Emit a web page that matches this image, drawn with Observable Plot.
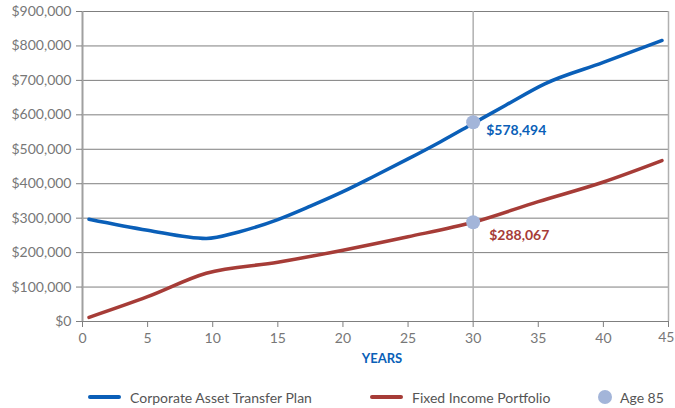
<!DOCTYPE html>
<html><head><meta charset="utf-8">
<script src="https://cdn.jsdelivr.net/npm/d3@7"></script>
<script src="https://cdn.jsdelivr.net/npm/@observablehq/plot@0.6"></script>
<style>
body{margin:0;background:#fff;font-family:Lato,sans-serif;}
#wrap{position:relative;width:675px;height:408px;}
#legend{position:absolute;top:386px;left:0;width:675px;height:22px;font-size:14px;color:#555;}
.li{position:absolute;top:0;display:flex;align-items:center;height:22px;white-space:nowrap;}
.sw{display:inline-block;width:33px;height:4px;border-radius:2px;margin-right:9px;}
.dot{display:inline-block;width:14px;height:14px;border-radius:7px;background:#a3b5d9;margin-right:8px;}
</style></head>
<body><div id="wrap"><div id="chart"></div>
<div id="legend">
<div class="li" style="left:88px"><span class="sw" style="background:#0a5fb8"></span>Corporate Asset Transfer Plan</div>
<div class="li" style="left:370px"><span class="sw" style="background:#a63c37"></span>Fixed Income Portfolio</div>
<div class="li" style="left:598px"><span class="dot"></span>Age 85</div>
</div></div>
<script>
const blueYears = [0.5, 5, 9.5, 12, 15, 17.5, 20, 22.5, 25, 27.5, 30, 32.5, 35.5, 40, 44.5];
const blueValues = [297000, 265000, 241000, 260000, 296000, 335000, 377000, 424000, 472000, 522000, 575000, 628000, 690000, 752000, 816000];
const redYears = [0.5, 5, 9.5, 15, 20, 25, 30, 35, 40, 44.5];
const redValues = [12000, 72000, 140000, 172000, 207000, 246000, 288000, 348000, 405000, 467000];
const markerYear = 30;
const markerValues = [578494, 288067];
const markerLabels = ["$578,494", "$288,067"];
const xTicks = [0,5,10,15,20,25,30,35,40,45];
const yTicks = [0,100000,200000,300000,400000,500000,600000,700000,800000,900000];

const blue = blueYears.map((x,i)=>({x, y: blueValues[i]}));
const red = redYears.map((x,i)=>({x, y: redValues[i]}));
const markers = markerValues.map((y,i)=>({x: markerYear, y, label: markerLabels[i]}));
const fmt = d3.format("$,");
const lastX = xTicks[xTicks.length-1];

const chart = Plot.plot({
  width: 675, height: 378,
  marginLeft: 82, marginRight: 7, marginTop: 11, marginBottom: 57,
  style: {fontFamily: 'Lato, sans-serif', fontSize: "14px", color: "#777"},
  x: {domain: [0,45], ticks: xTicks},
  y: {domain: [0,900000], ticks: yTicks},
  marks: [
    Plot.gridY(yTicks, {stroke: "#7f7f7f", strokeOpacity: 1, strokeWidth: 1}),
    Plot.ruleX([markerYear], {stroke: "#b0b0b0", strokeWidth: 1.5}),
    Plot.ruleX([45], {stroke: "#b0b0b0", strokeWidth: 1.5}),
    Plot.ruleY([0], {stroke: "#7f7f7f"}),
    Plot.ruleX([0], {stroke: "#a0a0a0", strokeWidth: 2}),
    Plot.axisY({ticks: yTicks, tickFormat: fmt, tickSize: 6, tickPadding: 5, stroke: "#7f7f7f", fill: "#777", label: null}),
    Plot.axisX({ticks: xTicks, tickFormat: d => d === lastX ? "" : String(d), tickSize: 6, tickPadding: 6, stroke: "#7f7f7f", fill: "#777", label: null}),
    Plot.text([lastX], {x: d => d, frameAnchor: "bottom", text: d => String(d), textAnchor: "end", dx: 6, dy: 20, fill: "#777", fontSize: 14}),
    Plot.line(blue, {x: "x", y: "y", stroke: "#0a5fb8", strokeWidth: 3.5, curve: "monotone-x"}),
    Plot.line(red, {x: "x", y: "y", stroke: "#a63c37", strokeWidth: 3.5, curve: "monotone-x"}),
    Plot.dot(markers, {x: "x", y: "y", r: 7, fill: "#a3b5d9"}),
    Plot.text([markers[0]], {x: "x", y: "y", text: "label", fill: "#0a5fb8", textAnchor: "start", dx: 13, dy: 8, fontWeight: "bold", fontSize: 14}),
    Plot.text([markers[1]], {x: "x", y: "y", text: "label", fill: "#a63c37", textAnchor: "start", dx: 16, dy: 13, fontWeight: "bold", fontSize: 14}),
    Plot.text(["YEARS"], {frameAnchor: "bottom", x: 23, text: d=>d, fill: "#0a5fb8", fontWeight: "bold", fontSize: 13, dy: 41})
  ]
});
document.getElementById("chart").appendChild(chart);
</script></body></html>
